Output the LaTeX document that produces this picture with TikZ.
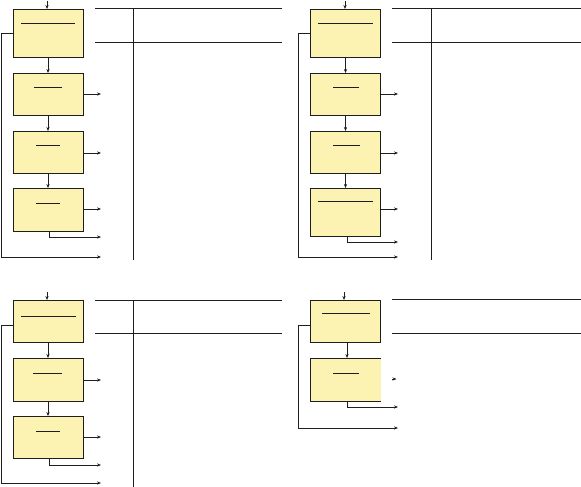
\documentclass[tikz,border=0pt]{standalone}
\usetikzlibrary{arrows.meta}
\definecolor{boxfill}{RGB}{252,243,178}
\definecolor{ink}{RGB}{30,30,30}
\tikzset{
  blk/.style={draw=ink, fill=boxfill, line width=0.8pt, minimum width=70pt, inner sep=0pt, outer sep=0pt, anchor=north west},
  blkopen/.style={fill=boxfill, minimum width=70pt, inner sep=0pt, outer sep=0pt, anchor=north west},
  arr/.style={draw=ink, line width=0.8pt, -{Stealth[length=4pt,width=3.2pt]}},
  ln/.style={draw=ink, line width=0.8pt},
  bar/.style={draw=ink, line width=0.9pt}
}
\begin{document}
\begin{tikzpicture}[x=1pt,y=-1pt]
\useasboundingbox (0,0) rectangle (581,487);

% ---------------- Panel 1 (top left) ----------------
\node[blk, minimum height=48pt] (a1) at (13,9) {};
\node[blk, minimum height=42pt] (a2) at (13,73) {};
\node[blk, minimum height=42pt] (a3) at (13,131) {};
\node[blk, minimum height=43pt] (a4) at (13,188) {};
\draw[bar] (21,23) -- (75,23);
\draw[bar] (34,87) -- (62,87);
\draw[bar] (36,145) -- (60,145);
\draw[bar] (36,203) -- (60,203);
\coordinate (at) at (47,1);
\coordinate (ao2) at (101,94);
\coordinate (ao3) at (101,153);
\coordinate (ao4) at (101,209);
\coordinate (ao5) at (101,237);
\coordinate (af) at (101,257);
\draw[arr] (at) -- (at |- a1.north);
\draw[arr] (a1.south) -- (a2.north);
\draw[arr] (a2.south) -- (a3.north);
\draw[arr] (a3.south) -- (a4.north);
\draw[arr] (a2.east |- ao2) -- (ao2);
\draw[arr] (a3.east |- ao3) -- (ao3);
\draw[arr] (a4.east |- ao4) -- (ao4);
\draw[arr] ([xshift=1pt]a4.south) |- (ao5);
\draw[arr] (a1.west) -- (1,33) |- (af);
\coordinate (ah1) at (95,8);   \coordinate (ah1e) at (282,8);
\coordinate (ah2) at (95,42);  \coordinate (ah2e) at (282,42);
\coordinate (av1) at (133,8);  \coordinate (av1e) at (133,260);
\draw[ln] (ah1) -- (ah1e);
\draw[ln] (ah2) -- (ah2e);
\draw[ln] (av1) -- (av1e);

% ---------------- Panel 2 (top right) ----------------
\node[blk, minimum height=48pt] (b1) at (310.5,9) {};
\node[blk, minimum height=42pt] (b2) at (310.5,73) {};
\node[blk, minimum height=42pt] (b3) at (310.5,131) {};
\node[blk, minimum height=48pt] (b4) at (310.5,188) {};
\draw[bar] (318,23) -- (373,23);
\draw[bar] (333,87) -- (359,87);
\draw[bar] (333,145) -- (360,145);
\draw[bar] (318,201) -- (373,201);
\coordinate (bt) at (345,1);
\coordinate (bo2) at (398,94);
\coordinate (bo3) at (398,153);
\coordinate (bo4) at (398,209);
\coordinate (bo5) at (398,242);
\coordinate (bf) at (398,257);
\draw[arr] (bt) -- (bt |- b1.north);
\draw[arr] (b1.south) -- (b2.north);
\draw[arr] (b2.south) -- (b3.north);
\draw[arr] (b3.south) -- (b4.north);
\draw[arr] (b2.east |- bo2) -- (bo2);
\draw[arr] (b3.east |- bo3) -- (bo3);
\draw[arr] (b4.east |- bo4) -- (bo4);
\draw[arr] ([xshift=1.5pt]b4.south) |- (bo5);
\draw[arr] (b1.west) -- (298,33) |- (bf);
\coordinate (bh1) at (392,8);   \coordinate (bh1e) at (581,8);
\coordinate (bh2) at (392,42);  \coordinate (bh2e) at (581,42);
\coordinate (bv1) at (431.5,8); \coordinate (bv1e) at (431.5,260);
\draw[ln] (bh1) -- (bh1e);
\draw[ln] (bh2) -- (bh2e);
\draw[ln] (bv1) -- (bv1e);

% ---------------- Panel 3 (bottom left) ----------------
\node[blk, minimum height=42pt] (c1) at (13,300) {};
\node[blk, minimum height=43pt] (c2) at (13,358) {};
\node[blk, minimum height=42pt] (c3) at (13,416) {};
\draw[bar] (21,316) -- (76,316);
\draw[bar] (33,373) -- (62,373);
\draw[bar] (36,431) -- (60,431);
\coordinate (ct) at (47,292);
\coordinate (co2) at (101,380);
\coordinate (co3) at (101,437);
\coordinate (co4) at (101,465);
\coordinate (cf) at (101,483);
\draw[arr] (ct) -- (ct |- c1.north);
\draw[arr] (c1.south) -- (c2.north);
\draw[arr] (c2.south) -- (c3.north);
\draw[arr] (c2.east |- co2) -- (co2);
\draw[arr] (c3.east |- co3) -- (co3);
\draw[arr] ([xshift=1pt]c3.south) |- (co4);
\draw[arr] (c1.west |- 0,325) -- (1,325) |- (cf);
\coordinate (ch1) at (95,300);  \coordinate (ch1e) at (282,300);
\coordinate (ch2) at (95,333);  \coordinate (ch2e) at (282,333);
\coordinate (cv1) at (133,300); \coordinate (cv1e) at (133,487);
\draw[ln] (ch1) -- (ch1e);
\draw[ln] (ch2) -- (ch2e);
\draw[ln] (cv1) -- (cv1e);

% ---------------- Panel 4 (bottom right) ----------------
\node[blk, minimum height=42pt] (d1) at (310.5,300) {};
\node[blkopen, minimum height=43pt] (d2) at (310.5,358) {};
\draw[ln] (d2.north east) -- (d2.north west) -- (d2.south west) -- (d2.south east);
\draw[bar] (322,313) -- (370,313);
\draw[bar] (333,373) -- (359,373);
\coordinate (dt) at (344,292);
\coordinate (dk) at (392,379);
\coordinate (dk2) at (396.5,379);
\coordinate (do4) at (398,407);
\coordinate (df) at (398,428);
\draw[arr] (dt) -- (dt |- d1.north);
\draw[arr] ([xshift=1.5pt]d1.south) -- ([xshift=1.5pt]d2.north);
\draw[arr] (dk) -- (dk2);
\draw[arr] ([xshift=1.5pt]d2.south) |- (do4);
\draw[arr] (d1.west |- 0,325) -- (298,325) |- (df);
\coordinate (dh1) at (392,299);  \coordinate (dh1e) at (581,299);
\coordinate (dh2) at (392,333);  \coordinate (dh2e) at (581,333);
\draw[ln] (dh1) -- (dh1e);
\draw[ln] (dh2) -- (dh2e);
\end{tikzpicture}
\end{document}
